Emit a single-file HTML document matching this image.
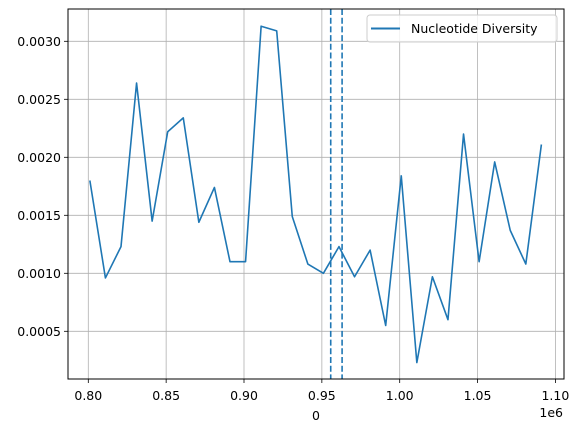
<!DOCTYPE html>
<html><head><meta charset="utf-8"><style>
body{margin:0;background:#fff}
svg text{font-family:"DejaVu Sans","Liberation Sans",sans-serif;font-size:12.5px;fill:#000}
</style></head><body>
<svg id="chart" width="580" height="432" xmlns="http://www.w3.org/2000/svg">
<rect width="580" height="432" fill="#fff"/>
<g id="grid"></g><g id="ticks"></g><g id="series"></g>
<rect x="68" y="9" width="496" height="370" fill="none" stroke="#000" stroke-width="1"/>
<text x="316" y="420" text-anchor="middle">0</text>
<text x="563" y="417" text-anchor="end">1e6</text>
<g>
<rect x="367" y="15" width="190" height="27" rx="3" fill="#fff" fill-opacity="0.8" stroke="#ccc"/>
<line x1="371" y1="28.5" x2="400" y2="28.5" stroke="#1f77b4" stroke-width="2"/>
<text x="411" y="33">Nucleotide Diversity</text>
</g>
</svg>
<script>
const xs=[0.801,0.811,0.821,0.831,0.841,0.851,0.861,0.871,0.881,0.891,0.901,0.911,0.921,0.931,0.941,0.951,0.961,0.971,0.981,0.991,1.001,1.011,1.021,1.031,1.041,1.051,1.061,1.071,1.081,1.091];
const ys=[0.00180,0.00096,0.00123,0.00264,0.00145,0.00222,0.00234,0.00144,0.00174,0.00110,0.00110,0.00313,0.00309,0.00149,0.00108,0.00100,0.00123,0.00097,0.00120,0.00055,0.00184,0.00023,0.00097,0.00060,0.00220,0.00110,0.00196,0.00137,0.00108,0.00211];
const vlines=[0.9557,0.9630];
const xTicks=[0.80,0.85,0.90,0.95,1.00,1.05,1.10];
const xLabels=["0.80","0.85","0.90","0.95","1.00","1.05","1.10"];
const yTicks=[0.0005,0.0010,0.0015,0.0020,0.0025,0.0030];
const yLabels=["0.0005","0.0010","0.0015","0.0020","0.0025","0.0030"];
const X=v=>88.3+(v-0.8)*1557;
const Y=v=>41.3+(0.003-v)/0.0005*58;
const NS="http://www.w3.org/2000/svg";
const grid=document.getElementById('grid'),tk=document.getElementById('ticks'),se=document.getElementById('series');
function mk(tag,at,p){const e=document.createElementNS(NS,tag);for(const k in at)e.setAttribute(k,at[k]);p.appendChild(e);return e;}
xTicks.forEach((t,i)=>{const x=X(t);
 const g=mk('line',{x1:x,x2:x,y1:9,y2:379,stroke:'#b0b0b0','stroke-width':0.8},grid);
 
 
 const m=mk('line',{x1:x,x2:x,y1:379,y2:383,stroke:'#000','stroke-width':0.8},tk);
 
 
 const l=mk('text',{x:x,y:400,'text-anchor':'middle'},tk);l.textContent=xLabels[i];
 
 
});
yTicks.forEach((t,i)=>{const y=Y(t);
 const g=mk('line',{x1:68,x2:564,y1:y,y2:y,stroke:'#b0b0b0','stroke-width':0.8},grid);
 
 
 const m=mk('line',{x1:64,x2:68,y1:y,y2:y,stroke:'#000','stroke-width':0.8},tk);
 
 
 const l=mk('text',{x:61,y:y+4.5,'text-anchor':'end'},tk);l.textContent=yLabels[i];
 
 
});
const line=mk('polyline',{points:xs.map((x,i)=>X(x)+','+Y(ys[i])).join(' '),fill:'none',stroke:'#1f77b4','stroke-width':1.6,'stroke-linejoin':'round'},se);


vlines.forEach(v=>{const x=X(v);
 const l=mk('line',{x1:x,x2:x,y1:9,y2:379,stroke:'#1f77b4','stroke-width':1.6,'stroke-dasharray':'6,2.7'},se);
 
 
});
</script>
</body></html>
